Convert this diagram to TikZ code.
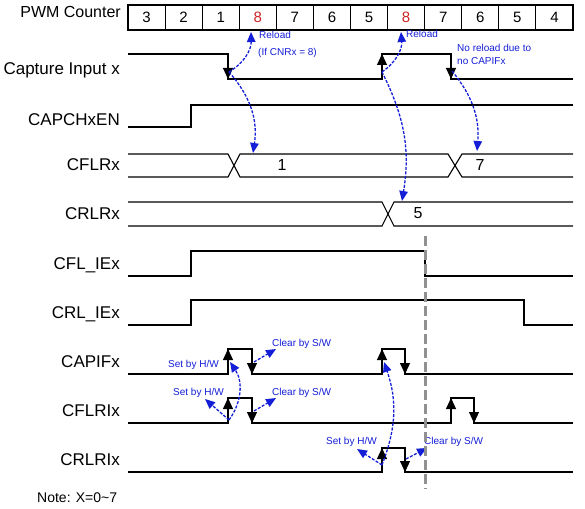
\documentclass[tikz,border=0pt]{standalone}
\usepackage{fontspec}
\setmainfont{Liberation Sans}
\usetikzlibrary{arrows.meta,calc}
\definecolor{BlueClr}{RGB}{20,30,215}
\definecolor{RedClr}{RGB}{205,35,35}
\definecolor{DashClr}{RGB}{145,145,145}

\tikzset{
  sig/.style={line width=1.1pt,black},
  lbl/.style={anchor=base east,inner sep=0pt,font=\fontsize{17}{19}\selectfont},
  val/.style={anchor=base,inner sep=0pt,font=\fontsize{16}{18}\selectfont},
  note/.style={anchor=base west,inner sep=0pt,text=BlueClr,font=\fontsize{10}{12}\selectfont},
  cell/.style={draw,line width=1.1pt,minimum width=37.08pt,minimum height=25pt,inner sep=0pt,font=\fontsize{15}{17}\selectfont},
  edgetip/.style={line width=1.1pt,-{Triangle[length=11pt,width=10pt]}},
  hwlink/.style={BlueClr,line width=1.3pt,dash pattern=on 3pt off 1.5pt,-{Triangle[length=10pt,width=8.5pt]}},
}

\begin{document}
\begin{tikzpicture}[x=1pt,y=-1pt]
\useasboundingbox (0,0) rectangle (585,508);

% PWM counter
\foreach \v [count=\i from 0] in {3,2,1,8,7,6,5,8,7,6,5,4}{
  \ifnum\v=8 \def\vclr{RedClr}\else\def\vclr{black}\fi
  \node[cell,text=\vclr] (cnt\i) at ({146.54+37.08*\i},17.5) {\v};
}

\node[lbl,font=\fontsize{16}{18}\selectfont] (pwm) at (121,18) {PWM Counter};
\node[lbl] (capin) at (120,75) {Capture Input x};
\node[lbl] (capen) at (120,125) {CAPCHxEN};
\node[lbl] (cflr) at (120,170) {CFLRx};
\node[lbl] (crlr) at (120,219) {CRLRx};
\node[lbl] (cflie) at (120,269) {CFL\_IEx};
\node[lbl] (crlie) at (120,318) {CRL\_IEx};
\node[lbl] (capif) at (120,367) {CAPIFx};
\node[lbl] (cflri) at (120,416) {CFLRIx};
\node[lbl] (crlri) at (120,465) {CRLRIx};
\node[anchor=base west,inner sep=0pt,font=\fontsize{14}{16}\selectfont] (note) at (37,502) {Note: X=0\textasciitilde7};

% waveforms
\draw[sig] (128,54) -| (228,79) -| (382,54) -| (451,79) -- (573,79);
\draw[sig] (128,127) -| (191,105) -- (573,105);
\draw[sig] (128,154) -- (228,154) -- (240,177) -- (448,177) -- (462,154) -- (573,154);
\draw[sig] (128,177) -- (228,177) -- (240,154) -- (448,154) -- (462,177) -- (573,177);
\draw[sig] (128,202) -- (382,202) -- (394,226) -- (573,226);
\draw[sig] (128,226) -- (382,226) -- (394,202) -- (573,202);
\draw[sig] (128,276) -| (191,251) -| (425,276) -- (573,276);
\draw[sig] (128,325) -| (191,300) -| (524,325) -- (573,325);
\draw[sig] (128,374) -| (228,349) -| (252,374) -| (382,349) -| (405,374) -- (573,374);
\draw[sig] (128,423) -| (228,398) -| (252,423) -| (451,398) -| (474,423) -- (573,423);
\draw[sig] (128,472) -| (382,448) -| (405,472) -- (573,472);

\node[val] (vone) at (282,170) {1};
\node[val] (vseven) at (480,170) {7};
\node[val] (vfive) at (418,218) {5};

% edge marks
\foreach \x/\a/\b in {228/54/79, 382/79/54, 451/54/79,
  228/374/349, 252/349/374, 382/374/349, 405/349/374,
  228/423/398, 252/398/423, 451/423/398, 474/398/423,
  382/472/448, 405/448/472}
  \draw[edgetip] (\x,\a) -- (\x,\b);

% blue links
\coordinate (capF1) at (229,72);
\coordinate (capR1) at (382,72);
\coordinate (capF2) at (452,71);
\coordinate (rldA) at (251,32);
\coordinate (rldB) at (401,32);
\coordinate (cflA) at (253,153);
\coordinate (cflB) at (477,151);
\coordinate (crlA) at (402,201);
\coordinate (ifR1) at (230,362);
\coordinate (ifR2) at (384,362);
\coordinate (ifF1) at (254,362);
\coordinate (ifClr) at (276,349);
\coordinate (cfrR1) at (229,420);
\coordinate (cfrSet) at (205,399);
\coordinate (cfrF1) at (254,411);
\coordinate (cfrClr) at (276,398);
\coordinate (crrR1) at (382,465);
\coordinate (crrSet) at (357,449);
\coordinate (crrF1) at (406,459);
\coordinate (crrClr) at (427,448);

\draw[hwlink] (capF1) to[bend right=30] (rldA);
\draw[hwlink] (capF1) to[bend left=25] (cflA);
\draw[hwlink] (capR1) to[bend right=30] (rldB);
\draw[hwlink] (capR1) to[bend left=18] (crlA);
\draw[hwlink] (capF2) to[bend left=22] (cflB);
\draw[hwlink] (cfrR1) to[bend right=35] (ifR1);
\draw[hwlink] (crrR1) to[bend right=20] (ifR2);
\draw[hwlink] (ifF1) -- (ifClr);
\draw[hwlink] (cfrR1) -- (cfrSet);
\draw[hwlink] (cfrF1) -- (cfrClr);
\draw[hwlink] (crrR1) -- (crrSet);
\draw[hwlink] (crrF1) -- (crrClr);

\node[note] (rldtxtA) at (259,39) {Reload};
\node[note] (rldcond) at (258,56) {(If CNRx = 8)};
\node[note] (rldtxtB) at (406,38) {Reload};
\node[note] (norld) at (457,52) {No reload due to};
\node[note] (nocap) at (457,65) {no CAPIFx};
\node[note] (ifset) at (168,367) {Set by H/W};
\node[note] (ifclr) at (272,346) {Clear by S/W};
\node[note] (cfrset) at (173,395) {Set by H/W};
\node[note] (cfrclr) at (272,395) {Clear by S/W};
\node[note] (crrset) at (326,444) {Set by H/W};
\node[note] (crrclr) at (424,444) {Clear by S/W};

% marker line
\draw[DashClr,line width=3pt,dash pattern=on 10pt off 4pt] (425,236) -- (425,489);

\end{tikzpicture}
\end{document}
